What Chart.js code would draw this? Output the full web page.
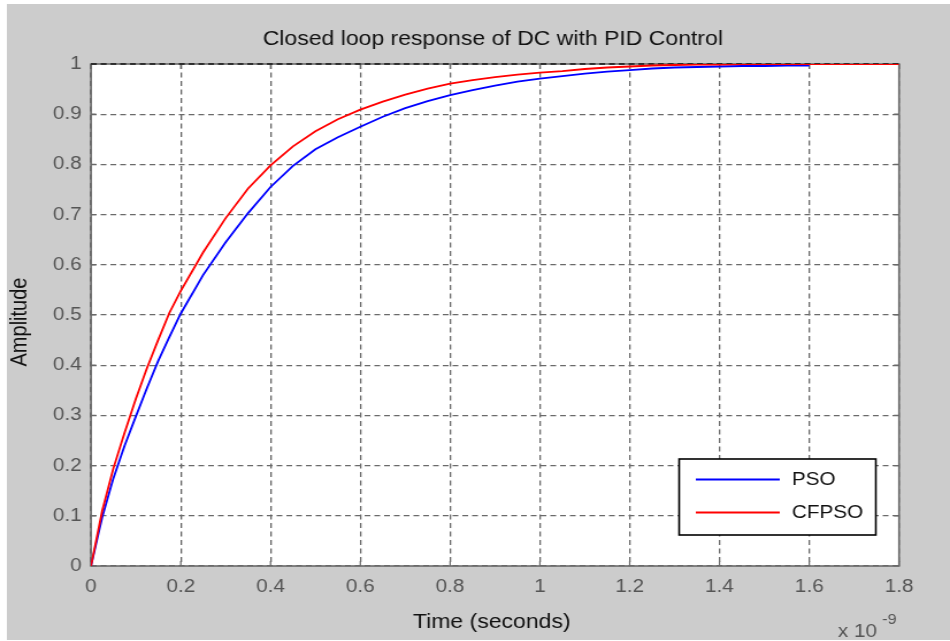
<!DOCTYPE html>
<html lang="en">
<head>
    <meta charset="UTF-8">
    <title>Closed loop response of DC with PID Control</title>
    <script src="https://cdnjs.cloudflare.com/ajax/libs/Chart.js/4.4.1/chart.umd.min.js"></script>
    <style>
        body{
            margin: 0;
            padding: 0;
            background-color: white;
        }
        #chart{
            display: block;
            width: 950px;
            height: 641px;
        }
    </style>
</head>
<body>
    <canvas id="chart" width="826" height="641" style="width:950px;height:641px"></canvas>
    <script>
        // time axis, in units of 1e-9 s
        const time = [0, 0.025, 0.05, 0.075, 0.1, 0.125, 0.15, 0.175, 0.2,
            0.25, 0.3, 0.35, 0.4, 0.45, 0.5, 0.55, 0.6, 0.65, 0.7, 0.75, 0.8,
            0.85, 0.9, 0.95, 1.0, 1.05, 1.1, 1.15, 1.2, 1.25, 1.3, 1.35, 1.4,
            1.45, 1.5, 1.55, 1.6, 1.7, 1.8];
        const psoAmp = [0, 0.097, 0.175, 0.24, 0.298, 0.355, 0.409, 0.457, 0.503,
            0.58, 0.645, 0.703, 0.755, 0.797, 0.830, 0.854, 0.875, 0.895, 0.912, 0.926, 0.938,
            0.948, 0.957, 0.965, 0.971, 0.976, 0.981, 0.985, 0.988, 0.991, 0.993, 0.994, 0.995,
            0.996, 0.996, 0.997, 0.997, null, null];
        const cfpsoAmp = [0, 0.11, 0.195, 0.266, 0.333, 0.395, 0.451, 0.505, 0.548,
            0.625, 0.693, 0.752, 0.798, 0.836, 0.866, 0.89, 0.909, 0.925, 0.939, 0.951, 0.961,
            0.968, 0.974, 0.979, 0.983, 0.986, 0.990, 0.993, 0.995, 0.997, 0.998, 0.999, 0.999,
            1.0, 1.0, 1.0, 1.0, 1.0, 1.0];
        const seriesNames = ['PSO', 'CFPSO'];
        const seriesColors = ['#0000ff', '#ff0000'];
        const xTicks = {min: 0, max: 1.8, step: 0.2};
        const yTicks = {min: 0, max: 1, step: 0.1};

        const FONT = '"Liberation Sans", Arial, sans-serif';
        const TICK_COLOR = '#555555';
        const GRID_DASH = [5, 3.5];

        function points(ys){
            const out = [];
            time.forEach((t, i) => {
                if (ys[i] !== null) out.push({x: t, y: ys[i]});
            });
            return out;
        }

        // figure background, axes box, inward tick marks, titles and legend
        const frame = {
            id: 'frame',
            beforeDraw(chart){
                const ctx = chart.ctx, a = chart.chartArea;
                ctx.save();
                ctx.fillStyle = '#ffffff';
                ctx.fillRect(0, 0, chart.width, chart.height);
                ctx.fillStyle = '#cccccc';
                ctx.fillRect(6, 4, chart.width - 6, 636);
                ctx.fillStyle = '#ffffff';
                ctx.fillRect(a.left, a.top, a.right - a.left, a.bottom - a.top);
                ctx.restore();
            },
            beforeDatasetsDraw(chart){
                const ctx = chart.ctx, a = chart.chartArea;
                const xs = chart.scales.x, ys = chart.scales.y;
                ctx.save();
                ctx.strokeStyle = '#6a6a6a';
                ctx.lineWidth = 1.6;
                ctx.strokeRect(a.left, a.top, a.right - a.left, a.bottom - a.top);
                ctx.lineWidth = 1.2;
                ctx.beginPath();
                xs.ticks.forEach(t => {
                    const px = xs.getPixelForValue(t.value);
                    ctx.moveTo(px, a.bottom); ctx.lineTo(px, a.bottom - 5);
                    ctx.moveTo(px, a.top); ctx.lineTo(px, a.top + 5);
                });
                ys.ticks.forEach(t => {
                    const py = ys.getPixelForValue(t.value);
                    ctx.moveTo(a.left, py); ctx.lineTo(a.left + 4.5, py);
                    ctx.moveTo(a.right, py); ctx.lineTo(a.right - 4.5, py);
                });
                ctx.stroke();
                // dashed top edge
                ctx.strokeStyle = '#1a1a1a';
                ctx.lineWidth = 1.5;
                ctx.setLineDash(GRID_DASH);
                ctx.beginPath();
                ctx.moveTo(a.left, a.top);
                ctx.lineTo(a.right, a.top);
                ctx.stroke();
                ctx.restore();
            },
            afterDraw(chart){
                const ctx = chart.ctx;
                ctx.save();
                ctx.fillStyle = '#111111';
                ctx.textAlign = 'center';
                ctx.textBaseline = 'alphabetic';
                ctx.font = '20px ' + FONT;
                ctx.fillText('Closed loop response of DC with PID Control', 428.5, 45);
                ctx.fillText('Time (seconds)', 427.5, 628);

                ctx.save();
                ctx.translate(22.5, 322);
                ctx.rotate(-Math.PI / 2);
                ctx.fillText('Amplitude', 0, 0);
                ctx.restore();

                // axis multiplier
                ctx.fillStyle = TICK_COLOR;
                ctx.textAlign = 'left';
                ctx.font = '18px ' + FONT;
                ctx.fillText('x 10', 728.5, 637);
                ctx.font = '14px ' + FONT;
                ctx.fillText('-9', 767, 624);

                // legend
                const box = {x: 590.5, y: 459, w: 171, h: 76};
                ctx.fillStyle = '#ffffff';
                ctx.fillRect(box.x, box.y, box.w, box.h);
                ctx.strokeStyle = '#000000';
                ctx.lineWidth = 1.6;
                ctx.strokeRect(box.x, box.y, box.w, box.h);
                ctx.font = '18px ' + FONT;
                ctx.textBaseline = 'middle';
                chart.data.datasets.forEach((ds, i) => {
                    const y = 479.5 + i * 33;
                    ctx.strokeStyle = ds.borderColor;
                    ctx.lineWidth = 1.8;
                    ctx.beginPath();
                    ctx.moveTo(605, y);
                    ctx.lineTo(678, y);
                    ctx.stroke();
                    ctx.fillStyle = '#111111';
                    ctx.fillText(ds.label, 688.5, y + 1);
                });
                ctx.restore();
            }
        };

        const gridColor = '#6a6a6a';
        const tickFont = {family: FONT, size: 18};

        const chart = new Chart(document.getElementById('chart'), {
            type: 'scatter',
            data: {
                datasets: [
                    {label: seriesNames[0], data: points(psoAmp), borderColor: seriesColors[0], order: 2},
                    {label: seriesNames[1], data: points(cfpsoAmp), borderColor: seriesColors[1], order: 1}
                ].map(d => Object.assign(d, {
                    showLine: true, pointRadius: 0, borderWidth: 1.8, tension: 0, fill: false
                }))
            },
            options: {
                responsive: false,
                animation: false,
                devicePixelRatio: 1,
                layout: {padding: {top: 64, right: 44.3, bottom: 0, left: 0}},
                plugins: {legend: {display: false}, tooltip: {enabled: false}},
                scales: {
                    x: {
                        type: 'linear',
                        min: xTicks.min,
                        max: xTicks.max,
                        afterFit(s){ s.height = 75; },
                        ticks: {
                            stepSize: xTicks.step,
                            padding: 10,
                            color: TICK_COLOR,
                            font: tickFont,
                            maxRotation: 0,
                            autoSkip: false,
                            callback: v => String(+v.toFixed(1))
                        },
                        grid: {color: gridColor, lineWidth: 1.3, drawTicks: false},
                        border: {display: false, dash: GRID_DASH}
                    },
                    y: {
                        min: yTicks.min,
                        max: yTicks.max,
                        afterFit(s){ s.width = 79.1; },
                        ticks: {
                            stepSize: yTicks.step,
                            padding: 8,
                            color: TICK_COLOR,
                            font: tickFont,
                            autoSkip: false,
                            callback: v => String(+v.toFixed(1))
                        },
                        grid: {color: gridColor, lineWidth: 1.3, drawTicks: false},
                        border: {display: false, dash: GRID_DASH}
                    }
                }
            },
            plugins: [frame]
        });
    </script>
</body>
</html>
